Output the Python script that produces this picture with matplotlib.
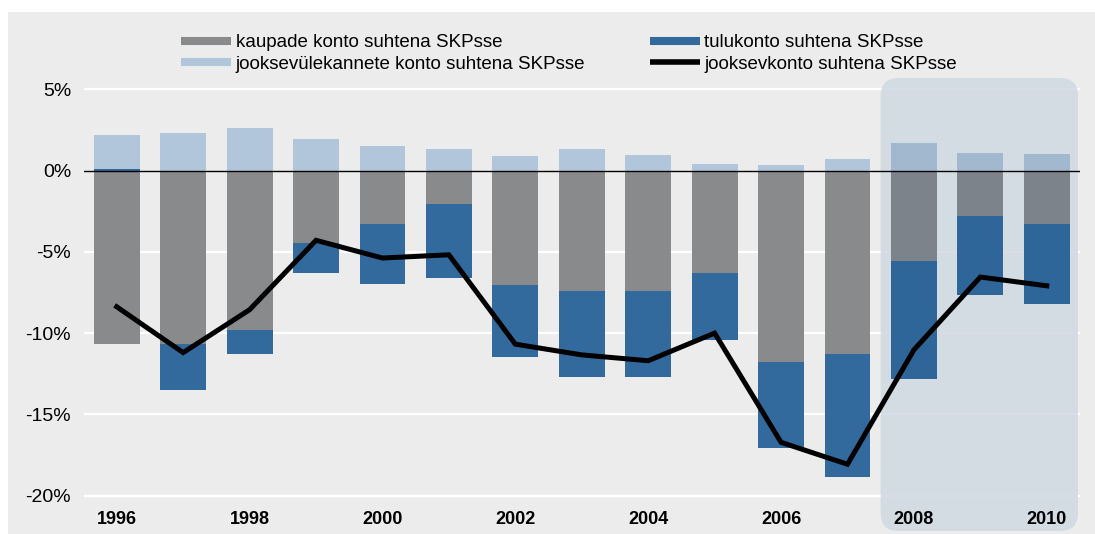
import numpy as np
import matplotlib
matplotlib.use('Agg')
import matplotlib.pyplot as plt
from matplotlib.lines import Line2D
from matplotlib.patches import Rectangle, FancyBboxPatch
from matplotlib.transforms import IdentityTransform

# andmed (% SKPst)
years = np.arange(1996, 2011)
kaupade = [-10.64, -10.64, -9.80, -4.48, -3.27, -2.03, -7.07, -7.39, -7.39, -6.33, -11.77, -11.28, -5.59, -2.77, -3.27]
tulu = [0.10, -2.83, -1.46, -1.85, -3.69, -4.60, -4.43, -5.34, -5.28, -4.12, -5.28, -7.55, -7.21, -4.91, -4.91]
ylekanded = [2.10, 2.34, 2.65, 1.97, 1.54, 1.35, 0.92, 1.35, 0.98, 0.43, 0.37, 0.74, 1.72, 1.10, 1.05]
jooksev = [-8.38, -11.20, -8.56, -4.29, -5.38, -5.18, -10.68, -11.34, -11.70, -10.00, -16.72, -18.07, -11.03, -6.55, -7.09]
tick_years = [1996, 1998, 2000, 2002, 2004, 2006, 2008, 2010]
y_ticks = [5, 0, -5, -10, -15, -20]
highlight_from = 2008

labels = ['kaupade konto suhtena SKPsse', 'jooksevülekannete konto suhtena SKPsse',
          'tulukonto suhtena SKPsse', 'jooksevkonto suhtena SKPsse']

plt.rcParams['font.family'] = ['Liberation Sans', 'DejaVu Sans']

c_gray, c_blue, c_light = '#898A8B', '#336A9E', '#B1C6DB'
h_gray, h_blue, h_light = '#7C838A', '#2E6699', '#A2B8CF'

W, H = 1095, 534
fig = plt.figure(figsize=(W / 100, H / 100), dpi=100, facecolor='white')
# hall taust
fig.patches.append(Rectangle((8 / W, 0), 1 - 8 / W, 1 - 12 / H, transform=fig.transFigure,
                             facecolor='#EBECEB', edgecolor='none', zorder=-10))

ax = fig.add_axes([83.5 / W, 0.0536, (1080 - 83.5) / W, 0.8004])
ax.set_facecolor('none')
ax.set_xlim(1995.5, 2010.5)
ax.set_ylim(-20.6, 5.7)

kaupade = np.array(kaupade)
tulu = np.array(tulu)
ylekanded = np.array(ylekanded)
hl = years >= highlight_from

tulu_bottom = np.where(tulu < 0, kaupade, 0)
yl_bottom = np.where(tulu > 0, tulu, 0)

bw = 0.69
ax.bar(years, kaupade, width=bw, color=np.where(hl, h_gray, c_gray), zorder=2)
ax.bar(years, tulu, bottom=tulu_bottom, width=bw, color=np.where(hl, h_blue, c_blue), zorder=2)
ax.bar(years, ylekanded, bottom=yl_bottom, width=bw, color=np.where(hl, h_light, c_light), zorder=2)

for yv in y_ticks:
    if yv != 0:
        ax.axhline(yv, color='white', lw=1.6, zorder=0.3)
ax.axhline(0, color='black', lw=1.0, zorder=3)

ax.plot(years, jooksev, color='black', lw=3.6, solid_joinstyle='miter', zorder=4)

# esiletõstetud periood
x0 = ax.transData.transform((highlight_from - 0.5, 0))[0]
x1 = ax.transData.transform((2010.5, 0))[0] - 2
box = FancyBboxPatch((x0, 3), x1 - x0, H - 78 - 3, boxstyle='round,pad=0,rounding_size=18',
                     transform=IdentityTransform(), facecolor='#CFD8E2', alpha=0.85,
                     edgecolor='none', zorder=0.6, clip_on=False)
ax.add_patch(box)

ax.set_xticks(tick_years)
ax.set_xticklabels([str(y) for y in tick_years], fontsize=13, fontweight='bold')
ax.set_yticks(y_ticks)
ax.set_yticklabels([f'{y}%' for y in y_ticks], fontsize=14)
ax.tick_params(length=0)
ax.tick_params(axis='x', pad=4)
ax.tick_params(axis='y', pad=9)
for s in ax.spines.values():
    s.set_visible(False)

handles = [Line2D([], [], color=c_gray, lw=5.8, solid_capstyle='butt'),
           Line2D([], [], color=c_light, lw=5.8, solid_capstyle='butt'),
           Line2D([], [], color=c_blue, lw=5.8, solid_capstyle='butt'),
           Line2D([], [], color='black', lw=4, solid_capstyle='butt')]
fig.legend(handles, labels, ncol=2, loc='upper left', bbox_to_anchor=(181 / W, 1 - 34 / H),
           frameon=False, fontsize=13.5, borderpad=0, borderaxespad=0,
           handlelength=2.67, handletextpad=0.24, columnspacing=3.44, labelspacing=0.25)

fig.savefig('out.png', dpi=100, facecolor='white')
